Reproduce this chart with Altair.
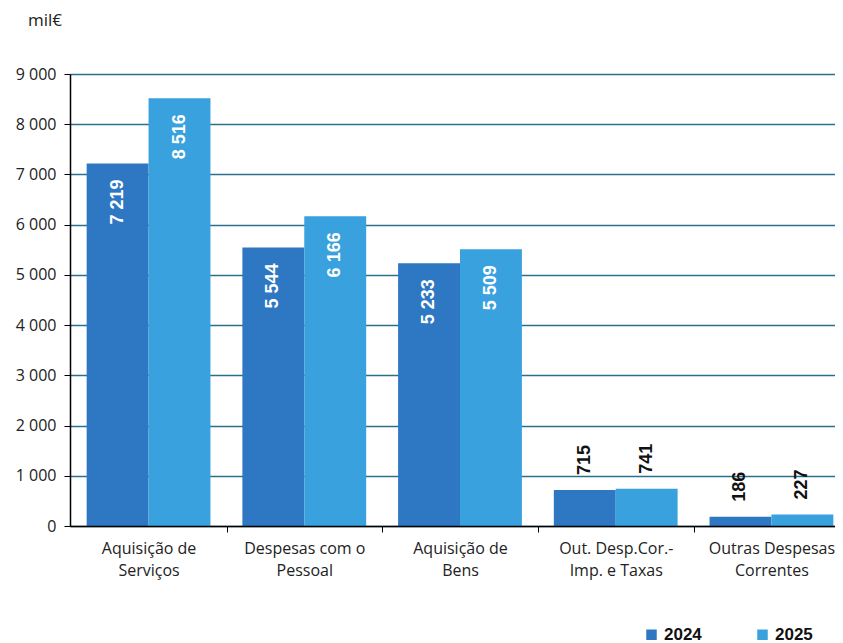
import altair as alt
import pandas as pd

categories = ["Aquisição de\nServiços", "Despesas com o\nPessoal", "Aquisição de\nBens",
              "Out. Desp.Cor.-\nImp. e Taxas", "Outras Despesas\nCorrentes"]
years = ["2024", "2025"]
v2024 = [7219, 5544, 5233, 715, 186]
v2025 = [8516, 6166, 5509, 741, 227]
unit = "mil€"

rows = []
for c, a, b in zip(categories, v2024, v2025):
    rows.append({"cat": c, "year": "2024", "value": a})
    rows.append({"cat": c, "year": "2025", "value": b})
df = pd.DataFrame(rows)

AX_FONT = "Open Sans"
BOLD_FONT = "Liberation Sans"
C24, C25 = "#2E77C2", "#39A1DD"
GRID = "#2B6F8F"

x_enc = alt.X("cat:N", sort=categories, title=None,
              scale=alt.Scale(range=[0, 780], paddingInner=0.205, paddingOuter=0.107),
              axis=alt.Axis(labelAngle=0, labelExpr="split(datum.label, '\\n')",
                            labelFont=AX_FONT, labelFontSize=16, labelColor="#222",
                            labelLineHeight=22, labelPadding=8, labelBaseline="top",
                            domainColor="#000", domainWidth=1.5, tickColor="#000",
                            tickSize=6, tickWidth=1, tickOffset=78, labelOffset=-78,
                            grid=False, zindex=1))
xoff = alt.XOffset("year:N", sort=years, scale=alt.Scale(paddingInner=0, paddingOuter=0))

base = alt.Chart(df).transform_calculate(
    lab="replace(format(datum.value, ','), ',', ' ')"
)

bars = base.mark_bar().encode(
    x=x_enc,
    xOffset=xoff,
    y=alt.Y("value:Q", title=None,
            scale=alt.Scale(domain=[0, 9000], nice=False),
            axis=alt.Axis(values=list(range(0, 9001, 1000)),
                          labelExpr="replace(format(datum.value, ','), ',', ' ')",
                          labelFont=AX_FONT, labelFontSize=16, labelColor="#222",
                          labelPadding=8, domainColor="#000", domainWidth=1.5,
                          tickColor="#000", tickSize=6, gridColor=GRID,
                          gridWidth=1.6)),
    color=alt.Color("year:N", sort=years,
                    scale=alt.Scale(domain=years, range=[C24, C25]),
                    legend=alt.Legend(title=None, orient="none", legendX=573, legendY=552,
                                      direction="horizontal", symbolType="square",
                                      symbolSize=110, symbolStrokeWidth=0,
                                      labelFont=BOLD_FONT, labelFontWeight="bold",
                                      labelFontSize=17, labelColor="#111",
                                      columnPadding=52, labelOffset=4)),
)

inside = base.transform_filter("datum.value > 2000").mark_text(
    angle=270, align="right", baseline="middle", dx=-16, color="white",
    font=BOLD_FONT, fontWeight="bold", fontSize=18
).encode(x=alt.X("cat:N", sort=categories), xOffset=xoff, y="value:Q", text="lab:N")

outside = base.transform_filter("datum.value <= 2000").mark_text(
    angle=270, align="left", baseline="middle", dx=15, color="#111",
    font=BOLD_FONT, fontWeight="bold", fontSize=18
).encode(x=alt.X("cat:N", sort=categories), xOffset=xoff, y="value:Q", text="lab:N")

unit_txt = alt.Chart(pd.DataFrame({"t": [unit]})).mark_text(
    align="left", baseline="middle", font=AX_FONT, fontSize=17, color="#222"
).encode(text="t:N", x=alt.value(-42), y=alt.value(-53))

chart = alt.layer(bars, inside, outside, unit_txt).properties(
    width=765, height=452,
    autosize=alt.AutoSizeParams(type="none"),
    padding={"left": 62, "top": 66, "right": 0, "bottom": 117},
).configure_view(stroke=None).configure(background="white")

chart.save("out.html", embed_options={"renderer": "svg", "actions": False})
